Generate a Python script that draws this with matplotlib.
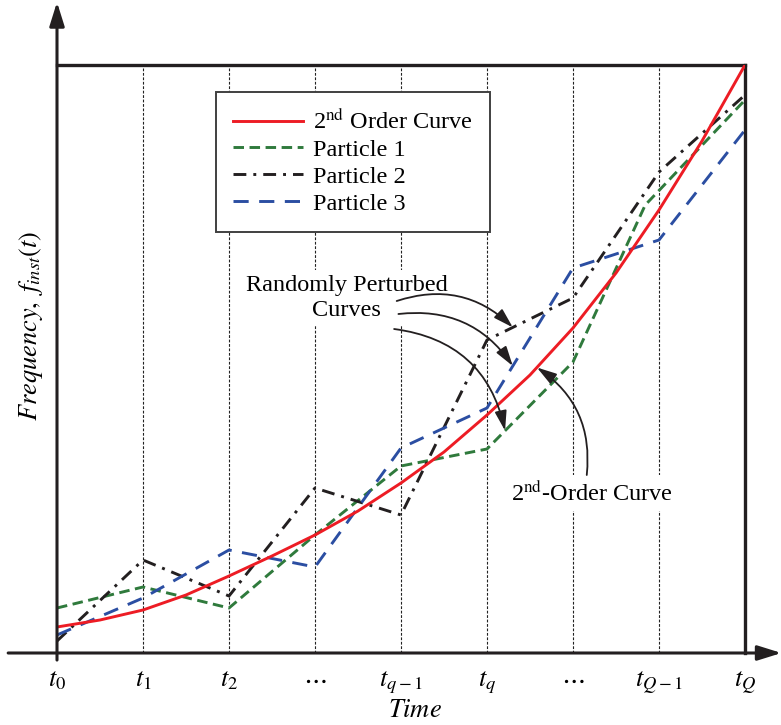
import numpy as np
import matplotlib
matplotlib.use('Agg')
import matplotlib.pyplot as plt

plt.rcParams['font.family'] = ['Liberation Serif', 'DejaVu Serif']
plt.rcParams['mathtext.fontset'] = 'stix'

# time grid t0 .. tQ (unit spacing), frequency in arbitrary units (box top = f_top)
tick_labels = [r'$t_0$', r'$t_1$', r'$t_2$', r'$\cdots$', r'$t_{q-1}$',
               r'$t_q$', r'$\cdots$', r'$t_{Q-1}$', r'$t_Q$']
f_top = 588

curve_t = [0, 0.5, 1, 1.5, 2, 2.5, 3, 3.5, 4, 4.5, 5, 5.5, 6, 6.5, 7, 7.5, 8]
curve_f = [26, 33, 43, 58, 77, 97, 118, 142, 170, 201, 238, 278, 325, 380, 443, 512, 588]

p1_t = [0, 1, 2, 3, 4, 5, 6, 6.84, 8]
p1_f = [45, 66, 45, 118, 187, 204, 291, 448, 553]

p2_t = [0, 1, 2, 3, 4, 5, 6, 7, 8]
p2_f = [12, 93, 57, 165, 138, 313, 355, 481, 558]

p3_t = [0, 1, 2, 3, 4, 5, 6, 7, 8]
p3_f = [18, 55, 103, 86, 205, 245, 385, 413, 523]

RED = '#ed1c24'
GREEN = '#2f7a3c'
BLACK = '#231f20'
BLUE = '#2b4ea2'

W, H = 781, 725
fig = plt.figure(figsize=(W / 100, H / 100), dpi=100)
ax = fig.add_axes([57 / W, (H - 653) / H, (745 - 57) / W, (653 - 65) / H])
ax.set_xlim(0, 8)
ax.set_ylim(0, f_top)

for t in range(1, 8):
    ax.axvline(t, color='#222222', lw=0.8, ls=(0, (2.5, 1.5)), zorder=0.5)

ax.plot(p1_t, p1_f, color=GREEN, lw=2.1, dashes=(3.6, 1.9), label='Particle 1', zorder=2)
ax.plot(p2_t, p2_f, color=BLACK, lw=2.1, dashes=(4.4, 2.4, 1.0, 2.4), label='Particle 2', zorder=2)
ax.plot(p3_t, p3_f, color=BLUE, lw=2.1, dashes=(5.2, 3.6), label='Particle 3', zorder=2)
ax.plot(curve_t, curve_f, color=RED, lw=2.1, label=r'2$^{\mathrm{nd}}$ Order Curve', zorder=3)

handles, labels = ax.get_legend_handles_labels()
order = [3, 0, 1, 2]
leg = ax.legend([handles[i] for i in order], [labels[i] for i in order],
                loc='upper left', bbox_to_anchor=(0.231, 0.954), borderaxespad=0,
                fontsize=17.5, handlelength=2.9, handletextpad=0.4,
                labelspacing=0.2, borderpad=0.7, fancybox=False, framealpha=1)
leg.get_frame().set_edgecolor('#404040')
leg.get_frame().set_linewidth(1.4)
leg.set_zorder(5)

# frame: top and right only, axes drawn as arrows
for s in ['left', 'bottom']:
    ax.spines[s].set_visible(False)
for s in ['top', 'right']:
    ax.spines[s].set_linewidth(2.4)
    ax.spines[s].set_color(BLACK)

axis_arrow = dict(arrowstyle='-|>,head_length=0.8,head_width=0.25', mutation_scale=18,
                  lw=2.2, color=BLACK, shrinkA=0, shrinkB=0)
ax.annotate('', xy=(0, 1.107), xytext=(0, -0.012), xycoords='axes fraction',
            arrowprops=axis_arrow)
ax.annotate('', xy=(1.053, 0), xytext=(-0.071, 0), xycoords='axes fraction',
            arrowprops=axis_arrow)

ax.set_yticks([])
ax.set_xticks(range(9))
ax.set_xticklabels(tick_labels, fontsize=19)
ax.tick_params(axis='x', length=0, pad=12)

fig.text(415 / W, 1 - 711 / H, r'$Time$', fontsize=19, ha='center', va='center')
fig.text(31 / W, 1 - 326 / H, r'$Frequency,\ f_{inst}(t)$', fontsize=19,
         rotation=90, ha='center', va='center')

# annotations
ax.text(3.37, 355, 'Randomly Perturbed\nCurves', fontsize=17.5, ha='center', va='center',
        linespacing=1.2, zorder=4,
        bbox=dict(facecolor='white', edgecolor='none', pad=4))
ax.text(6.22, 160, r'2$^{\mathrm{nd}}$-Order Curve', fontsize=17.5, ha='center', va='center',
        zorder=4, bbox=dict(facecolor='white', edgecolor='none', pad=4))

pointer = dict(arrowstyle='-|>,head_length=0.6,head_width=0.18', mutation_scale=20,
               lw=1.3, color=BLACK, shrinkA=0, shrinkB=0)
targets = [(p2_t, p2_f, 5.30, (3.95, 352), -0.3),
           (p3_t, p3_f, 5.30, (3.97, 339), -0.3),
           (p1_t, p1_f, 5.21, (3.92, 324), -0.35),
           (curve_t, curve_f, 5.58, (6.16, 178), 0.3)]
for tx, fx, t_at, start, rad in targets:
    ax.annotate('', xy=(t_at, np.interp(t_at, tx, fx)), xytext=start,
                arrowprops=dict(pointer, connectionstyle='arc3,rad=%s' % rad), zorder=4)

fig.savefig('out.png', dpi=100)
